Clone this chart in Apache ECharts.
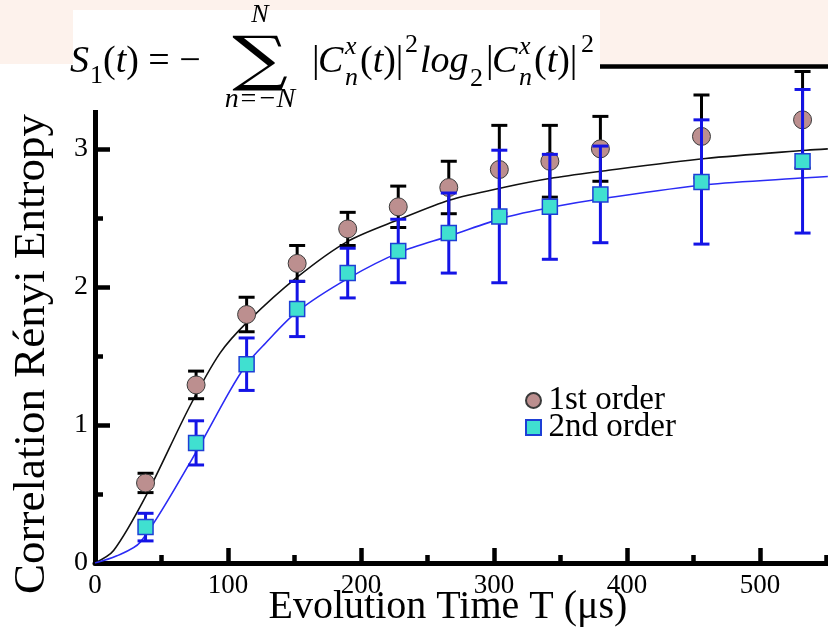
<!DOCTYPE html>
<html><head><meta charset="utf-8">
<script src="https://cdn.jsdelivr.net/npm/echarts@6/dist/echarts.min.js"></script>
<style>html,body{margin:0;padding:0;background:#fff}#c{width:828px;height:631px}</style>
</head><body><div id="c"></div>
<script>
// ---- data ----
const T = [38, 76, 114, 152, 190, 228, 266, 304, 342, 380, 456, 532];
const first = [0.58, 1.29, 1.80, 2.17, 2.42, 2.58, 2.72, 2.85, 2.91, 3.00, 3.09, 3.21];
const firstErr = [0.07, 0.10, 0.125, 0.13, 0.12, 0.15, 0.19, 0.32, 0.26, 0.235, 0.30, 0.35];
const second = [0.26, 0.87, 1.44, 1.84, 2.10, 2.26, 2.39, 2.51, 2.58, 2.67, 2.76, 2.91];
const secondErr = [0.10, 0.16, 0.19, 0.20, 0.18, 0.23, 0.29, 0.48, 0.38, 0.35, 0.45, 0.52];
const fitT1 = [0, 14, 38, 71, 94, 115, 152, 190, 229, 267, 307, 345, 382, 459, 535, 551];
const fit1 = [0, 0.09, 0.48, 1.13, 1.52, 1.75, 2.07, 2.33, 2.49, 2.63, 2.72, 2.79, 2.84, 2.93, 2.99, 3.00];
const fitT2 = [0, 16, 34, 71, 101, 114, 127, 152, 190, 229, 267, 307, 345, 382, 459, 535, 551];
const fit2 = [0, 0.05, 0.15, 0.72, 1.24, 1.44, 1.58, 1.82, 2.06, 2.25, 2.37, 2.50, 2.58, 2.64, 2.74, 2.79, 2.80];
const xTicks = [0, 100, 200, 300, 400, 500];
const yTicks = [0, 1, 2, 3];
const seriesNames = ['1st order', '2nd order'];
const xTitle = 'Evolution Time T (\u03bcs)';
const yTitle = 'Correlation R\u00e9nyi Entropy';

const FONT = "'Liberation Serif', 'Times New Roman', serif";
const MATH = "'Liberation Serif', 'DejaVu Serif', serif";

function errBars(color) {
  return function (params, api) {
    const x = api.value(0), y = api.value(1), e = api.value(2);
    const top = api.coord([x, y + e]);
    const bot = api.coord([x, y - e]);
    const w = 8;
    const st = { stroke: color, lineWidth: 3 };
    return { type: 'group', children: [
      { type: 'line', shape: { x1: top[0], y1: top[1], x2: bot[0], y2: bot[1] }, style: st },
      { type: 'line', shape: { x1: top[0] - w, y1: top[1], x2: top[0] + w, y2: top[1] }, style: st },
      { type: 'line', shape: { x1: bot[0] - w, y1: bot[1], x2: bot[0] + w, y2: bot[1] }, style: st }
    ]};
  };
}

const chart = echarts.init(document.getElementById('c'), null, { renderer: 'canvas' });

function mt(text, x, y, size, opts) {
  return Object.assign({
    type: 'text', x: x, y: y, z: 110,
    style: Object.assign({ text: text, fill: '#000', fontSize: size, fontFamily: MATH, fontStyle: 'italic',
      align: 'left', verticalAlign: 'middle' }, (opts && opts.style) || {})
  }, (opts && opts.el) || {});
}
const up = { style: { fontStyle: 'normal' } };
const richParen = { r: { fontSize: 38, fontFamily: MATH, fill: '#000' }, i: { fontSize: 38, fontFamily: MATH, fontStyle: 'italic', fill: '#000' } };

const option = {
  backgroundColor: '#ffffff',
  animation: false,
  grid: { left: 95, top: 66, right: -65, bottom: 68, containLabel: false, outerBoundsMode: 'none' },
  xAxis: [
    { type: 'value', min: 0, max: 600, interval: 100, position: 'bottom',
      axisLine: { show: true, onZero: false, lineStyle: { color: '#000', width: 5 } },
      axisTick: { show: true, inside: true, length: 15, lineStyle: { color: '#000', width: 4.5 } },
      axisLabel: { show: true, margin: 9, color: '#000', fontSize: 27, fontFamily: FONT,
        formatter: v => (xTicks.indexOf(v) >= 0 ? String(v) : '') },
      splitLine: { show: false } },
    { type: 'value', min: 0, max: 600, interval: 50, position: 'bottom',
      axisLine: { show: false },
      axisTick: { show: true, inside: true, length: 8, lineStyle: { color: '#000', width: 4.5 } },
      axisLabel: { show: false }, splitLine: { show: false } },
    { type: 'value', min: 0, max: 600, position: 'top',
      axisLine: { show: true, onZero: false, lineStyle: { color: '#000', width: 4.5 } },
      axisTick: { show: false }, axisLabel: { show: false }, splitLine: { show: false } }
  ],
  yAxis: [
    { type: 'value', min: 0, max: 3.6, interval: 1, position: 'left',
      axisLine: { show: true, onZero: false, lineStyle: { color: '#000', width: 5 } },
      axisTick: { show: true, inside: true, length: 15, lineStyle: { color: '#000', width: 4.5 } },
      axisLabel: { show: true, margin: 7, color: '#000', fontSize: 28, fontFamily: FONT,
        formatter: v => (yTicks.indexOf(v) >= 0 ? String(v) : '') },
      splitLine: { show: false } },
    { type: 'value', min: 0, max: 3.6, interval: 0.5, position: 'left',
      axisLine: { show: false },
      axisTick: { show: true, inside: true, length: 8, lineStyle: { color: '#000', width: 4.5 } },
      axisLabel: { show: false }, splitLine: { show: false } }
  ],
  legend: {
    orient: 'vertical', left: 520, top: 379, itemWidth: 26, itemHeight: 15, itemGap: -6,
    symbolKeepAspect: true,
    data: [
      { name: seriesNames[0], icon: 'circle' },
      { name: seriesNames[1], icon: 'path://M0,0H10V10H0Z' }
    ],
    textStyle: { fontSize: 33, fontFamily: FONT, color: '#000', padding: [0, 0, 0, -3] },
    selectedMode: false
  },
  series: [
    { name: 'fit1', type: 'line', data: fitT1.map((t, i) => [t, fit1[i]]), smooth: 0.3,
      showSymbol: false, symbol: 'none', lineStyle: { color: '#111', width: 1.6 }, z: 2, silent: true },
    { name: 'fit2', type: 'line', data: fitT2.map((t, i) => [t, fit2[i]]), smooth: 0.3,
      showSymbol: false, symbol: 'none', lineStyle: { color: '#2b2bf5', width: 1.6 }, z: 2, silent: true },
    { name: 'err1', type: 'custom', renderItem: errBars('#000'), data: T.map((t, i) => [t, first[i], firstErr[i]]), z: 3 },
    { name: seriesNames[0], type: 'scatter', data: T.map((t, i) => [t, first[i]]), symbol: 'circle', symbolSize: 18,
      itemStyle: { color: '#bc8f8f', borderColor: '#3a3a3a', borderWidth: 1, opacity: 1 }, z: 4 },
    { name: 'err2', type: 'custom', renderItem: errBars('#1414e6'), data: T.map((t, i) => [t, second[i], secondErr[i]]), z: 5 },
    { name: seriesNames[1], type: 'scatter', data: T.map((t, i) => [t, second[i]]), symbol: 'rect', symbolSize: 15,
      itemStyle: { color: '#40e0d0', borderColor: '#1d3fd6', borderWidth: 1.5, opacity: 1 }, z: 6 }
  ],
  graphic: { elements: [
    { type: 'rect', shape: { x: 0, y: 0, width: 828, height: 64 }, style: { fill: '#fdf2ec' }, z: -10, silent: true },
    { type: 'rect', shape: { x: 73, y: 10, width: 527, height: 100 }, style: { fill: '#ffffff' }, z: 100, silent: true },
    // formula S_1(t) = - sum_{n=-N}^{N} |C_n^x(t)|^2 log_2 |C_n^x(t)|^2
    mt('S', 70, 62, 38),
    mt('1', 90, 76, 26, up),
    { type: 'text', x: 103, y: 62, z: 110, style: { text: '{r|(}{i|t}{r|) = \u2212}', verticalAlign: 'middle', align: 'left', rich: richParen } },
    { type: 'text', x: 260, y: 63, z: 110, scaleX: 1.3, originX: 0,
      style: { text: '\u2211', fill: '#000', fontSize: 60, fontFamily: "'DejaVu Serif', serif", align: 'center', verticalAlign: 'middle' } },
    mt('N', 260, 15, 26, { style: { align: 'center' } }),
    mt('n=\u2212N', 260, 100, 28, { style: { align: 'center' } }),
    mt('|', 312, 62, 38, up),
    mt('C', 318, 62, 38),
    mt('x', 345, 47, 26),
    mt('n', 345, 78, 26),
    { type: 'text', x: 360, y: 62, z: 110, style: { text: '{r|(}{i|t}{r|)|}', verticalAlign: 'middle', align: 'left', rich: richParen } },
    mt('2', 405, 45, 26, up),
    mt('log', 420, 62, 38),
    mt('2', 470, 79, 26, up),
    mt('|', 486, 62, 38, up),
    mt('C', 492, 62, 38),
    mt('x', 519, 47, 26),
    mt('n', 519, 78, 26),
    { type: 'text', x: 534, y: 62, z: 110, style: { text: '{r|(}{i|t}{r|)|}', verticalAlign: 'middle', align: 'left', rich: richParen } },
    mt('2', 581, 45, 26, up),
    // axis titles
    { type: 'text', x: 32, y: 354, rotation: Math.PI / 2, z: 50,
      style: { text: yTitle, fontSize: 45, fontFamily: FONT, fill: '#000', align: 'center', verticalAlign: 'middle' } },
    { type: 'text', x: 448, y: 607, z: 50,
      style: { text: xTitle, fontSize: 40, fontFamily: FONT, fill: '#000', align: 'center', verticalAlign: 'middle' } }
  ]}
};
chart.setOption(option);
</script></body></html>
